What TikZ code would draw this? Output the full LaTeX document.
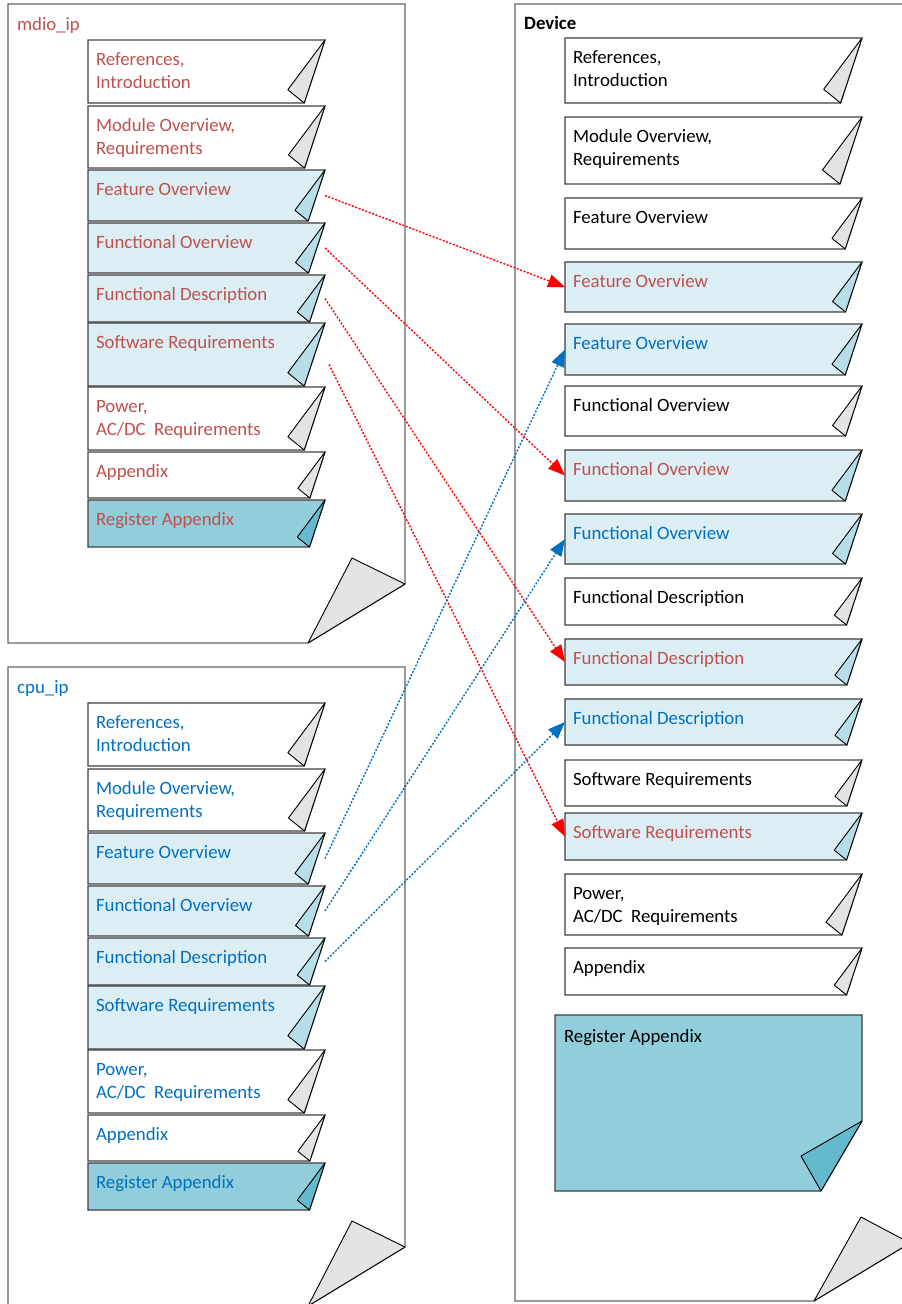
\documentclass[tikz,border=0pt]{standalone}
\usepackage{fontspec}
\setmainfont{Carlito}
\usetikzlibrary{arrows.meta,calc}
\definecolor{tred}{HTML}{C0504D}
\definecolor{tblue}{HTML}{0070C0}
\definecolor{lb}{HTML}{DBEEF4}
\definecolor{lbfold}{HTML}{B7DEE8}
\definecolor{rb}{HTML}{92CDDC}
\definecolor{rbfold}{HTML}{65B9CC}
\definecolor{gfold}{HTML}{E3E3E3}
\definecolor{edge}{HTML}{404040}
\definecolor{pedge}{HTML}{666666}
\definecolor{ared}{HTML}{FF0000}
\definecolor{ablue}{HTML}{0070C0}
% name, x, y, w, h, fill, foldfill, textcolor, text
\newcommand\fpage[9]{%
  \pgfmathsetmacro\xa{#2}\pgfmathsetmacro\ya{#3}%
  \pgfmathsetmacro\xb{#2+#4}\pgfmathsetmacro\yb{#3+#5}%
  \pgfmathsetmacro\xc{#2+#4-0.33*#5}%
  \pgfmathsetmacro\xd{\xc-0.26*#5}\pgfmathsetmacro\yd{\yb-0.21*#5}%
  \node[anchor=north west, minimum width=#4pt, minimum height=#5pt, inner sep=0pt, outer sep=0pt] (#1) at (\xa,\ya) {};
  \filldraw[boxline, fill=#6] (\xa,\ya) -- (\xb,\ya) -- (\xc,\yb) -- (\xa,\yb) -- cycle;
  \filldraw[foldline, fill=#7] (\xb,\ya) -- (\xc,\yb) -- (\xd,\yd) -- cycle;
  \node[boxtext, text=#8] (#1-t) at (\xa+8,\ya+25.5) {\begin{tabular}[t]{@{}l@{}}#9\end{tabular}};
}
\begin{document}
\begin{tikzpicture}[x=1pt, y=-1pt,
  boxline/.style={draw=edge, line width=1.2pt, line join=miter},
  foldline/.style={draw=black, line width=0.9pt, line join=round},
  pageline/.style={draw=pedge, line width=1.3pt, line join=miter},
  boxtext/.style={anchor=base west, inner sep=0pt, outer sep=0pt, font=\fontsize{18.8}{23}\selectfont},
  title/.style={anchor=base west, inner sep=0pt, font=\fontsize{18.8}{23}\selectfont},
  redarrow/.style={draw=ared, line width=1.4pt, dash pattern=on 2pt off 1.6pt, -{Triangle[length=17pt,width=13pt]}},
  bluearrow/.style={draw=ablue, line width=1.4pt, dash pattern=on 2pt off 1.6pt, -{Triangle[length=17pt,width=13pt]}}]
\useasboundingbox (0,0) rectangle (902,1304);
\clip (0,0) rectangle (902,1304);

% ---------- mdio_ip page ----------
\filldraw[pageline, fill=white] (8,4) -- (405,4) -- (405,584) -- (308,643) -- (8,643) -- cycle;
\filldraw[foldline, fill=gfold] (405,584) -- (308,643) -- (352,558) -- cycle;
\node[title, text=tred] (mtitle) at (17,30) {mdio\_ip};
\fpage{mRef}{88}{40}{237}{63}{white}{gfold}{tred}{References,\\Introduction}
\fpage{mMod}{88}{106}{237}{62}{white}{gfold}{tred}{Module Overview,\\Requirements}
\fpage{mFeat}{88}{170}{237}{51}{lb}{lbfold}{tred}{Feature Overview}
\fpage{mFov}{88}{223}{237}{50}{lb}{lbfold}{tred}{Functional Overview}
\fpage{mFd}{88}{275}{237}{47}{lb}{lbfold}{tred}{Functional Description}
\fpage{mSw}{88}{323}{237}{63}{lb}{lbfold}{tred}{Software Requirements}
\fpage{mPow}{88}{387}{237}{63}{white}{gfold}{tred}{Power,\\AC/DC\ \ Requirements}
\fpage{mApp}{88}{452}{237}{46}{white}{gfold}{tred}{Appendix}
\fpage{mReg}{88}{500}{237}{47}{rb}{rbfold}{tred}{Register Appendix}

% ---------- cpu_ip page ----------
\filldraw[pageline, fill=white] (8,667) -- (405,667) -- (405,1247) -- (308,1306) -- (8,1306) -- cycle;
\filldraw[foldline, fill=gfold] (405,1247) -- (308,1306) -- (352,1221) -- cycle;
\node[title, text=tblue] (ctitle) at (17,693) {cpu\_ip};
\fpage{cRef}{88}{703}{237}{63}{white}{gfold}{tblue}{References,\\Introduction}
\fpage{cMod}{88}{769}{237}{62}{white}{gfold}{tblue}{Module Overview,\\Requirements}
\fpage{cFeat}{88}{833}{237}{51}{lb}{lbfold}{tblue}{Feature Overview}
\fpage{cFov}{88}{886}{237}{50}{lb}{lbfold}{tblue}{Functional Overview}
\fpage{cFd}{88}{938}{237}{47}{lb}{lbfold}{tblue}{Functional Description}
\fpage{cSw}{88}{986}{237}{63}{lb}{lbfold}{tblue}{Software Requirements}
\fpage{cPow}{88}{1050}{237}{63}{white}{gfold}{tblue}{Power,\\AC/DC\ \ Requirements}
\fpage{cApp}{88}{1115}{237}{46}{white}{gfold}{tblue}{Appendix}
\fpage{cReg}{88}{1163}{237}{47}{rb}{rbfold}{tblue}{Register Appendix}

% ---------- Device page ----------
\filldraw[pageline, fill=white] (515,4) -- (910,4) -- (910,1243) -- (814,1301) -- (515,1301) -- cycle;
\filldraw[foldline, fill=gfold] (910,1243) -- (814,1301) -- (861,1217) -- cycle;
\node[title, text=black, font=\fontsize{18.8}{23}\selectfont\bfseries] (dtitle) at (524,29) {Device};
\fpage{dRef}{565}{38}{297}{65}{white}{gfold}{black}{References,\\Introduction}
\fpage{dMod}{565}{117}{297}{67}{white}{gfold}{black}{Module Overview,\\Requirements}
\fpage{dFeat}{565}{198}{297}{51}{white}{gfold}{black}{Feature Overview}
\fpage{dFeatR}{565}{262}{297}{50}{lb}{lbfold}{tred}{Feature Overview}
\fpage{dFeatB}{565}{324}{297}{51}{lb}{lbfold}{tblue}{Feature Overview}
\fpage{dFov}{565}{386}{297}{50}{white}{gfold}{black}{Functional Overview}
\fpage{dFovR}{565}{450}{297}{51}{lb}{lbfold}{tred}{Functional Overview}
\fpage{dFovB}{565}{514}{297}{50}{lb}{lbfold}{tblue}{Functional Overview}
\fpage{dFd}{565}{578}{297}{47}{white}{gfold}{black}{Functional Description}
\fpage{dFdR}{565}{639}{297}{46}{lb}{lbfold}{tred}{Functional Description}
\fpage{dFdB}{565}{699}{297}{46}{lb}{lbfold}{tblue}{Functional Description}
\fpage{dSw}{565}{760}{297}{46}{white}{gfold}{black}{Software Requirements}
\fpage{dSwR}{565}{813}{297}{47}{lb}{lbfold}{tred}{Software Requirements}
\fpage{dPow}{565}{874}{297}{61}{white}{gfold}{black}{Power,\\AC/DC\ \ Requirements}
\fpage{dApp}{565}{948}{297}{47}{white}{gfold}{black}{Appendix}
% large register appendix
\node[anchor=north west, minimum width=307pt, minimum height=176pt, inner sep=0pt, outer sep=0pt] (dReg) at (555,1015) {};
\filldraw[boxline, fill=rb] (555,1015) -- (862,1015) -- (862,1121) -- (821,1191) -- (555,1191) -- cycle;
\filldraw[foldline, fill=rbfold] (862,1121) -- (821,1191) -- (801,1156) -- cycle;
\node[boxtext, text=black] (dReg-t) at (564,1042) {Register Appendix};

% ---------- connectors ----------
\coordinate (sR4) at ($(mSw.east)+(4,10)$);
\draw[redarrow] (mFeat.east) -- (dFeatR.west);
\draw[redarrow] (mFov.east) -- (dFovR.west);
\draw[redarrow] (mFd.east) -- (dFdR.west);
\draw[redarrow] (sR4) -- (dSwR.west);
\draw[bluearrow] (cFeat.east) -- (dFeatB.west);
\draw[bluearrow] (cFov.east) -- (dFovB.west);
\draw[bluearrow] (cFd.east) -- (dFdB.west);
\end{tikzpicture}
\end{document}
